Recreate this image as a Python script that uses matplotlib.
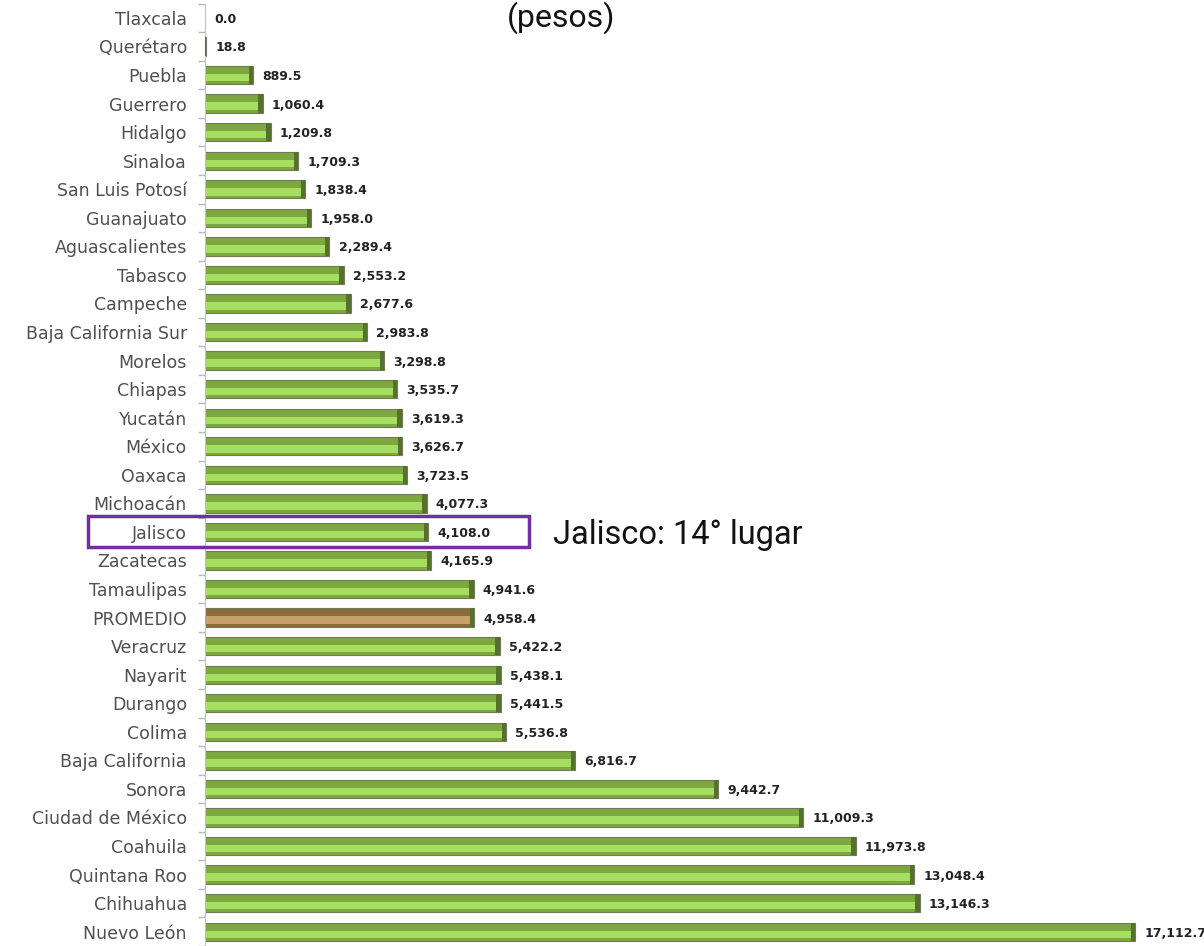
import numpy as np
import matplotlib.pyplot as plt
from matplotlib.patches import Rectangle

# Datos (pesos) por entidad, de arriba hacia abajo
estados = ["Tlaxcala", "Querétaro", "Puebla", "Guerrero", "Hidalgo", "Sinaloa",
           "San Luis Potosí", "Guanajuato", "Aguascalientes", "Tabasco", "Campeche",
           "Baja California Sur", "Morelos", "Chiapas", "Yucatán", "México", "Oaxaca",
           "Michoacán", "Jalisco", "Zacatecas", "Tamaulipas", "PROMEDIO", "Veracruz",
           "Nayarit", "Durango", "Colima", "Baja California", "Sonora",
           "Ciudad de México", "Coahuila", "Quintana Roo", "Chihuahua", "Nuevo León"]
valores = [0.0, 18.8, 889.5, 1060.4, 1209.8, 1709.3, 1838.4, 1958.0, 2289.4,
           2553.2, 2677.6, 2983.8, 3298.8, 3535.7, 3619.3, 3626.7, 3723.5, 4077.3,
           4108.0, 4165.9, 4941.6, 4958.4, 5422.2, 5438.1, 5441.5, 5536.8, 6816.7,
           9442.7, 11009.3, 11973.8, 13048.4, 13146.3, 17112.7]
resaltado = "Jalisco"
nota = "Jalisco: 14° lugar"

W, H = 1204, 946
fig = plt.figure(figsize=(W / 100, H / 100), dpi=100)
fig.patch.set_facecolor("white")

# eje: izquierda en x=205 px, escala ~0.05435 px por peso
x0, px_por_peso = 205, 0.05435
paso = (935 - 18) / 32
ax = fig.add_axes([x0 / W, 0, 1 - x0 / W, 1])
ax.set_xlim(0, (W - x0) / px_por_peso)
ax.set_ylim(32 + (H - 935) / paso, -18 / paso)

y = np.arange(len(estados))
es_prom = np.array([e == "PROMEDIO" for e in estados])
v = np.array(valores)

alto = 0.64
ext = np.where(es_prom, "#8c6a3a", "#7ca83f")
inn = np.where(es_prom, "#c9a06c", "#a6de62")

ax.barh(y, v, height=alto, color=ext, edgecolor="#737a58", linewidth=0.8, zorder=2)
# franja clara inferior (efecto biselado)
ax.barh(y + 0.09, v, height=0.26, color=inn, linewidth=0, zorder=3)
# borde oscuro al final de cada barra
ax.barh(y, np.minimum(v, 80), left=np.maximum(v - 80, 0), height=alto,
        color="#56702e", linewidth=0, zorder=5)

for yi, val in zip(y, v):
    ax.text(val + 170, yi + 0.05, f"{val:,.1f}", va="center", ha="left",
            fontsize=9, fontweight="bold", color="#222222", family="DejaVu Sans")

ax.set_yticks(y)
ax.set_yticklabels(estados, fontsize=12.5, color="#4f4f4f", family="DejaVu Sans")
ax.tick_params(axis="y", which="major", length=0, pad=13)
ax.set_yticks(np.arange(-0.5, len(estados)), minor=True)
ax.tick_params(axis="y", which="minor", length=5, color="#b8b8b8", width=1)
ax.set_xticks([])
for s in ["top", "right", "bottom"]:
    ax.spines[s].set_visible(False)
ax.spines["left"].set_color("#c4c4c4")
ax.spines["left"].set_bounds(-0.5, len(estados) - 0.5)

# recuadro de Jalisco
j = estados.index(resaltado)
yc = 18 + j * paso
fig.patches.append(Rectangle((88 / W, 1 - 547 / H), (529 - 88) / W, 31 / H,
                             transform=fig.transFigure, fill=False,
                             edgecolor="#7030a0", linewidth=2.5, zorder=10))
fig.text(553 / W, 1 - (yc + 1) / H, nota, fontsize=23.5, family="Roboto",
         va="center", ha="left", color="#111111")

fig.text(561 / W, 1 - 1 / H, "(pesos)", fontsize=23, family="Roboto",
         va="top", ha="center", color="#111111")

fig.savefig("out.png", dpi=100, facecolor="white")
